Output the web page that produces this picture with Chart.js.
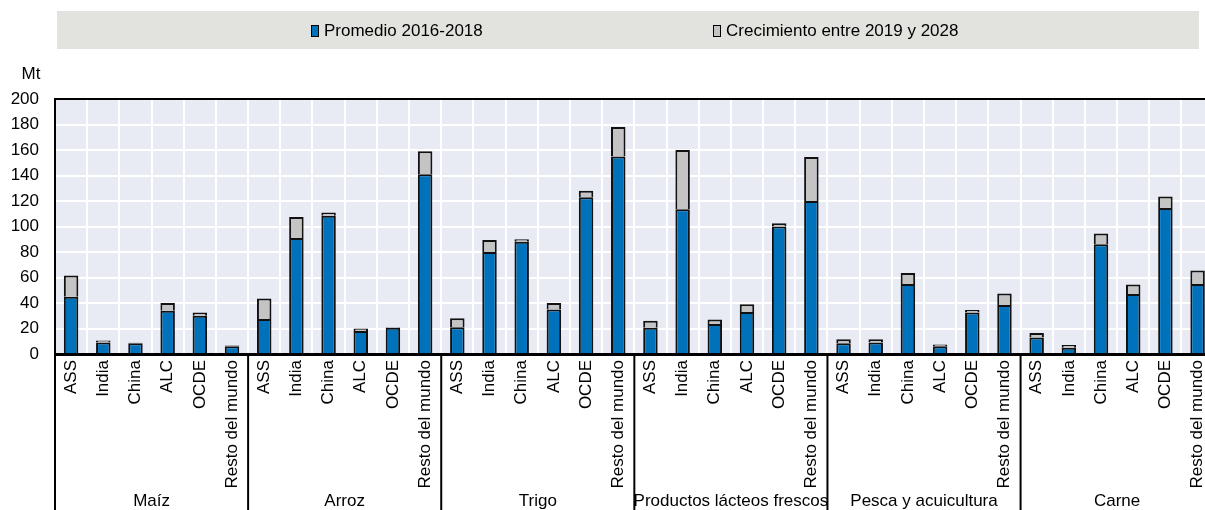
<!DOCTYPE html>
<html>
<head>
<meta charset="utf-8">
<script src="https://cdn.jsdelivr.net/npm/chart.js@4"></script>
<style>
  html, body { margin: 0; padding: 0; background: #fff; overflow: hidden; }
  #wrap { width: 1224px; height: 510px; }
</style>
</head>
<body>
<div id="wrap"><canvas id="myChart" width="1224" height="510"></canvas></div>
<script>
// products (groups) and regions (bars inside each group)
const groups = ['Maíz', 'Arroz', 'Trigo', 'Productos lácteos frescos', 'Pesca y acuicultura', 'Carne'];
const regions = ['ASS', 'India', 'China', 'ALC', 'OCDE', 'Resto del mundo'];

// Mt, one row per group
const promedio = [
  45, 9, 8.5, 34, 30, 6,          // Maíz
  27.5, 91, 108.5, 18, 20.5, 141, // Arroz
  21, 80, 88, 35, 123, 155,       // Trigo
  20.5, 113.5, 23.5, 33, 100, 120,// Lácteos
  8.5, 9, 55, 6, 32.5, 38.5,      // Pesca
  13, 5, 86, 47, 114.5, 55        // Carne
];
const crecimiento = [
  16.5, 1.5, 0.4, 6, 2.5, 0.6,
  16, 16.5, 2.5, 2, 0.5, 18,
  7, 9.5, 2, 5, 5, 23,
  5.5, 46.5, 3.5, 6, 2.5, 34.5,
  3, 2.5, 8.5, 1.5, 2, 9,
  3.5, 2, 8.5, 7.5, 9, 10.5
];
const yTicks = [0, 20, 40, 60, 80, 100, 120, 140, 160, 180, 200];

const FONT = "'Liberation Sans', Arial, sans-serif";

const labels = [];
groups.forEach(() => regions.forEach(r => labels.push(r)));

const extras = {
  id: 'extras',
  beforeDraw(chart) {
    const ctx = chart.ctx;
    const a = chart.chartArea;
    ctx.save();
    // legend box
    ctx.fillStyle = '#e2e2de';
    ctx.fillRect(57, 11, 1142, 38);
    const items = [
      { x: 311, ds: chart.data.datasets[0] },
      { x: 713, ds: chart.data.datasets[1] }
    ];
    ctx.font = '17px ' + FONT;
    ctx.textBaseline = 'middle';
    ctx.textAlign = 'left';
    items.forEach(it => {
      ctx.fillStyle = it.ds.backgroundColor;
      ctx.fillRect(it.x, 25, 7, 11);
      ctx.strokeStyle = '#000';
      ctx.lineWidth = 1;
      ctx.strokeRect(it.x + 0.5, 25.5, 7, 11);
      ctx.fillStyle = '#000';
      ctx.fillText(it.ds.label, it.x + 13, 31);
    });
    // unit
    ctx.textAlign = 'center';
    ctx.fillText('Mt', 31, 74);
    // plot background
    ctx.fillStyle = '#e9ebf4';
    ctx.fillRect(a.left, a.top, a.right - a.left, a.bottom - a.top);
    ctx.restore();
  },
  afterDraw(chart) {
    const ctx = chart.ctx;
    const a = chart.chartArea;
    const x = chart.scales.x;
    const H = chart.height;
    ctx.save();
    ctx.strokeStyle = '#000';
    // top frame line
    ctx.lineWidth = 2;
    ctx.beginPath();
    ctx.moveTo(a.left, a.top);
    ctx.lineTo(a.right, a.top);
    ctx.stroke();
    // left line down through the label area
    ctx.beginPath();
    ctx.moveTo(a.left, a.top);
    ctx.lineTo(a.left, H);
    ctx.stroke();
    // group separators and names
    const n = regions.length;
    ctx.font = '17px ' + FONT;
    ctx.fillStyle = '#000';
    ctx.textAlign = 'center';
    ctx.textBaseline = 'middle';
    const half = (x.getPixelForTick(1) - x.getPixelForTick(0)) / 2;
    groups.forEach((g, i) => {
      const left = x.getPixelForTick(i * n) - half;
      const right = x.getPixelForTick(i * n + n - 1) + half;
      if (i > 0) {
        ctx.beginPath();
        ctx.moveTo(left, a.bottom);
        ctx.lineTo(left, H);
        ctx.stroke();
      }
      ctx.fillText(g, (left + right) / 2, 501);
    });
    ctx.restore();
  }
};

const ctx = document.getElementById('myChart');

const myChart = new Chart(ctx, {
  type: 'bar',
  data: {
    labels: labels,
    datasets: [{
      label: 'Promedio 2016-2018',
      data: promedio,
      backgroundColor: '#0072bc',
      borderColor: '#111',
      borderWidth: 2,
      barPercentage: 0.45,
      categoryPercentage: 1
    }, {
      label: 'Crecimiento entre 2019 y 2028',
      data: crecimiento,
      backgroundColor: '#c4c4c4',
      borderColor: '#111',
      borderWidth: 2,
      barPercentage: 0.45,
      categoryPercentage: 1
    }]
  },
  options: {
    responsive: false,
    animation: false,
    layout: { padding: { top: 99, right: 1, left: 0, bottom: 0 } },
    plugins: {
      legend: false,
      tooltip: { enabled: false }
    },
    scales: {
      x: {
        stacked: true,
        offset: true,
        grid: { color: '#ffffff', lineWidth: 2, offset: true, drawTicks: false },
        border: { color: '#000', width: 3 },
        ticks: {
          autoSkip: false,
          minRotation: 90,
          maxRotation: 90,
          padding: 6,
          color: '#000',
          font: { family: FONT, size: 17 }
        },
        afterFit(s) { s.height = 156; }
      },
      y: {
        stacked: true,
        min: 0,
        max: 200,
        afterBuildTicks(s) { s.ticks = yTicks.map(v => ({ value: v })); },
        grid: { color: '#ffffff', lineWidth: 2, drawTicks: false },
        border: { color: '#000', width: 2 },
        ticks: {
          padding: 16,
          color: '#000',
          font: { family: FONT, size: 17 }
        },
        afterFit(s) { s.width = 55; }
      }
    }
  },
  plugins: [extras]
});
</script>
</body>
</html>
